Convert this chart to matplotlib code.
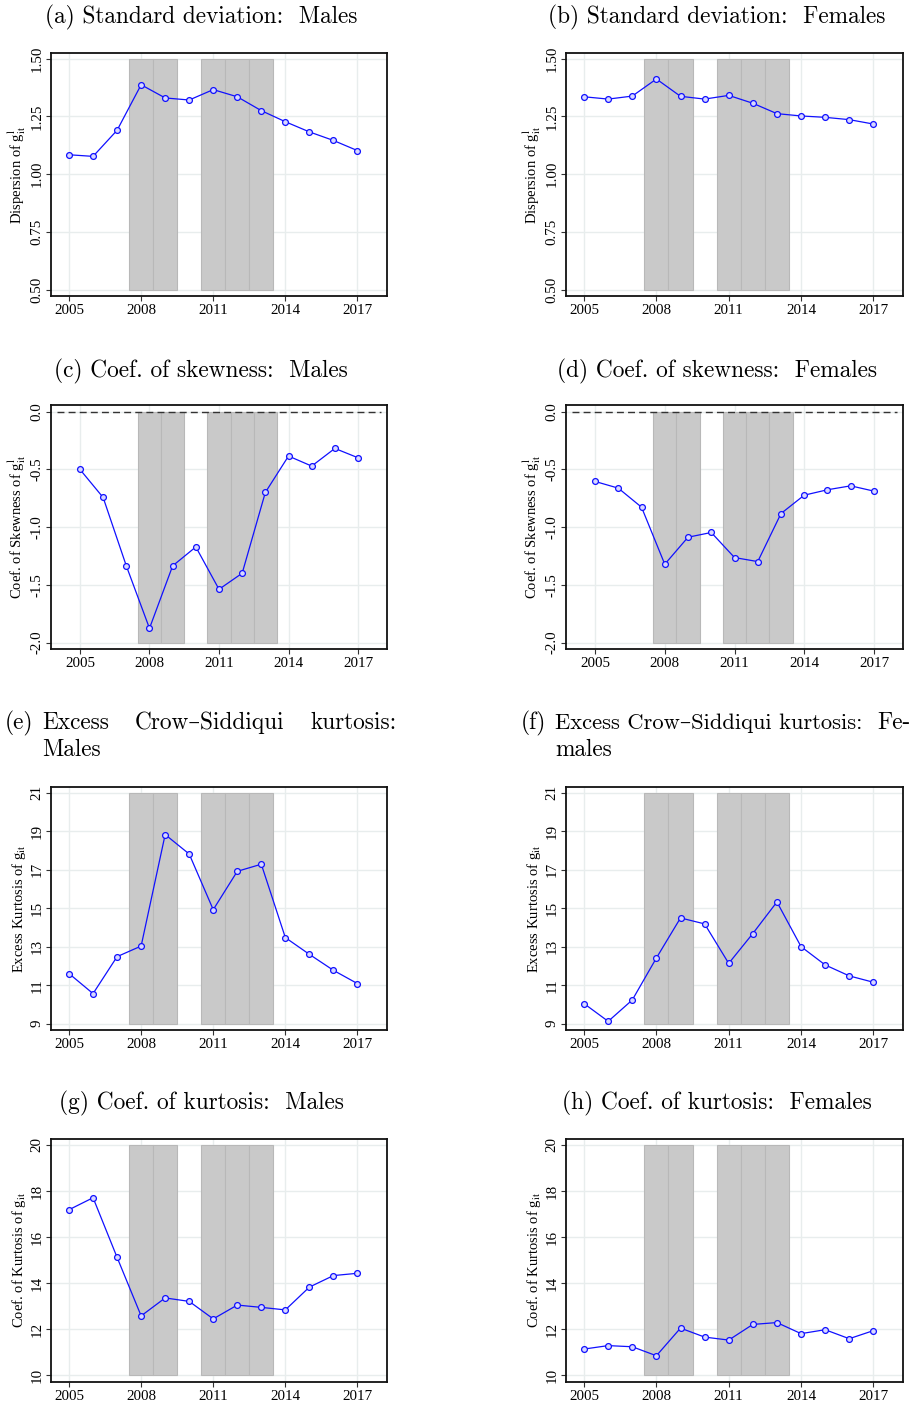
import numpy as np
import matplotlib.pyplot as plt

plt.rcParams['mathtext.fontset'] = 'stix'

# data
years = np.arange(2005, 2018)
recession_years = [2008, 2009, 2011, 2012, 2013]

sd_males = [1.084, 1.077, 1.190, 1.387, 1.330, 1.321, 1.366, 1.335, 1.275, 1.227, 1.183, 1.146, 1.102]
sd_females = [1.335, 1.325, 1.338, 1.412, 1.337, 1.325, 1.341, 1.307, 1.262, 1.252, 1.246, 1.236, 1.217]
skew_males = [-0.500, -0.743, -1.335, -1.876, -1.335, -1.171, -1.538, -1.399, -0.699, -0.384, -0.471, -0.318, -0.399]
skew_females = [-0.604, -0.662, -0.827, -1.321, -1.087, -1.046, -1.263, -1.298, -0.882, -0.723, -0.676, -0.642, -0.688]
cs_kurt_males = [11.60, 10.56, 12.48, 13.03, 18.82, 17.81, 14.92, 16.91, 17.28, 13.47, 12.60, 11.77, 11.08]
cs_kurt_females = [10.04, 9.12, 10.23, 12.41, 14.49, 14.18, 12.13, 13.68, 15.32, 13.00, 12.05, 11.48, 11.15]
kurt_males = [17.19, 17.71, 15.12, 12.58, 13.36, 13.21, 12.45, 13.05, 12.95, 12.84, 13.83, 14.33, 14.43]
kurt_females = [11.14, 11.29, 11.24, 10.85, 12.05, 11.66, 11.53, 12.21, 12.29, 11.81, 11.98, 11.59, 11.94]

xticks = [2005, 2008, 2011, 2014, 2017]
sd_ticks = [0.50, 0.75, 1.00, 1.25, 1.50]
sd_labels = ['0.50', '0.75', '1.00', '1.25', '1.50']
skew_ticks = [-2.0, -1.5, -1.0, -0.5, 0.0]
skew_labels = ['-2.0', '-1.5', '-1.0', '-0.5', '0.0']
cs_ticks = [9, 11, 13, 15, 17, 19, 21]
kurt_ticks = [10, 12, 14, 16, 18, 20]
zero_line_span = (2004, 2018)

W, H = 913, 1405
fig = plt.figure(figsize=(W / 100, H / 100), dpi=100)
title_font = ['cmr10', 'DejaVu Serif']
tick_font = 'Liberation Serif'


def add_panel(box, values, ylabel, yticks, ylabels, ylim, xlim=(2004.25, 2018.23), zero_line=False):
    left, top, right, bottom = box
    ax = fig.add_axes([left / W, 1 - bottom / H, (right - left) / W, (bottom - top) / H])
    ax.set_axisbelow(True)
    ax.grid(True, color='#e8eded', linewidth=1.0)
    # recession shading
    ax.bar(recession_years, yticks[-1] - yticks[0], bottom=yticks[0], width=1.0,
           color='#c9c9c9', edgecolor='#b8b8b8', linewidth=0.8, zorder=2)
    if zero_line:
        ax.hlines(0, zero_line_span[0], zero_line_span[1], colors='#333333',
                  linestyles=(0, (5, 3)), linewidth=1.0, zorder=3)
    ax.plot(years, values, color='#1010ff', linewidth=0.9, marker='o', markersize=4.2,
            markerfacecolor='#d8d8ff', markeredgecolor='#1010ff', markeredgewidth=0.9, zorder=4)
    ax.set_xlim(*xlim)
    ax.set_ylim(*ylim)
    ax.set_xticks(xticks)
    ax.set_xticklabels([str(x) for x in xticks], fontfamily=tick_font, fontsize=10.8)
    ax.set_yticks(yticks)
    ax.set_yticklabels(ylabels, fontfamily=tick_font, fontsize=10.8, rotation=90, va='center')
    ax.tick_params(length=3.5, width=0.8, pad=2, color='#333333')
    ax.set_ylabel(ylabel, fontfamily=tick_font, fontsize=10.5, labelpad=2)
    for s in ax.spines.values():
        s.set_linewidth(1.3)
        s.set_color('#111111')
    return ax


lcol = (51, 387)
rcol = (566, 903)
rows = [(53, 296), (405, 649), (787, 1030), (1139, 1382)]

sd_lab = r'Dispersion of g$^{\mathrm{l}}_{\mathrm{it}}$'
skew_lab = r'Coef. of Skewness of g$^{\mathrm{l}}_{\mathrm{it}}$'
cs_lab = r'Excess Kurtosis of g$_{\mathrm{it}}$'
kurt_lab = r'Coef. of Kurtosis of g$_{\mathrm{it}}$'

for col, sd, sk, cs, ku in [(lcol, sd_males, skew_males, cs_kurt_males, kurt_males),
                            (rcol, sd_females, skew_females, cs_kurt_females, kurt_females)]:
    add_panel((col[0], rows[0][0], col[1], rows[0][1]), sd, sd_lab, sd_ticks, sd_labels, (0.4726, 1.5245))
    add_panel((col[0], rows[1][0], col[1], rows[1][1]), sk, skew_lab, skew_ticks, skew_labels,
              (-2.055, 0.058), xlim=(2003.75, 2018.25), zero_line=True)
    add_panel((col[0], rows[2][0], col[1], rows[2][1]), cs, cs_lab, cs_ticks,
              [str(t) for t in cs_ticks], (8.67, 21.29))
    add_panel((col[0], rows[3][0], col[1], rows[3][1]), ku, kurt_lab, kurt_ticks,
              [str(t) for t in kurt_ticks], (9.71, 20.26))


def ftext(x, y, s, ha='center', size=16.8):
    fig.text(x / W, 1 - y / H, s, ha=ha, va='center', fontsize=size, fontfamily=title_font)


ftext(201, 17, '(a) Standard deviation:  Males')
ftext(717, 17, '(b) Standard deviation:  Females')
ftext(201, 371, '(c) Coef. of skewness:  Males')
ftext(717, 371, '(d) Coef. of skewness:  Females')
ftext(201, 1103, '(g) Coef. of kurtosis:  Males')
ftext(717, 1103, '(h) Coef. of kurtosis:  Females')

# wrapped, justified titles for (e) and (f)
ftext(5, 723, '(e)', ha='left')
ftext(42, 723, 'Excess', ha='left')
ftext(135, 723, 'Crow\u2013Siddiqui', ha='left')
ftext(397, 723, 'kurtosis:', ha='right')
ftext(42, 750, 'Males', ha='left')
ftext(521, 723, '(f)', ha='left')
ftext(555, 723, 'Excess Crow\u2013Siddiqui kurtosis:', ha='left', size=16.2)
ftext(911, 723, 'Fe-', ha='right')
ftext(555, 750, 'males', ha='left')

fig.savefig('out.png', dpi=100)
